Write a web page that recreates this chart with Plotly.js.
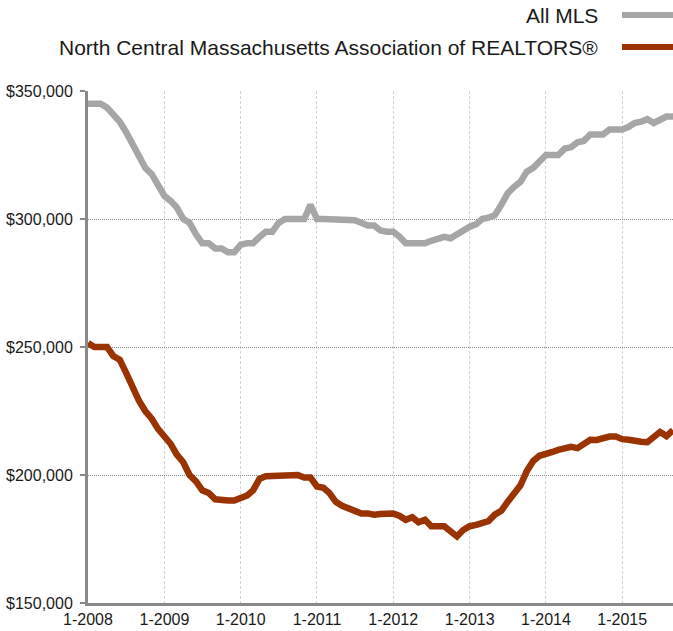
<!DOCTYPE html>
<html>
<head>
<meta charset="utf-8">
<script src="https://cdn.plot.ly/plotly-3.0.1.min.js"></script>
<style>html,body{margin:0;padding:0;background:#fff;}#chart{width:673px;height:631px;}</style>
</head>
<body>
<div id="chart"></div>
<script>
const months = [
  "2008-01","2008-02","2008-03","2008-04","2008-05","2008-06","2008-07","2008-08","2008-09","2008-10","2008-11","2008-12",
  "2009-01","2009-02","2009-03","2009-04","2009-05","2009-06","2009-07","2009-08","2009-09","2009-10","2009-11","2009-12",
  "2010-01","2010-02","2010-03","2010-04","2010-05","2010-06","2010-07","2010-08","2010-09","2010-10","2010-11","2010-12",
  "2011-01","2011-02","2011-03","2011-04","2011-05","2011-06","2011-07","2011-08","2011-09","2011-10","2011-11","2011-12",
  "2012-01","2012-02","2012-03","2012-04","2012-05","2012-06","2012-07","2012-08","2012-09","2012-10","2012-11","2012-12",
  "2013-01","2013-02","2013-03","2013-04","2013-05","2013-06","2013-07","2013-08","2013-09","2013-10","2013-11","2013-12",
  "2014-01","2014-02","2014-03","2014-04","2014-05","2014-06","2014-07","2014-08","2014-09","2014-10","2014-11","2014-12",
  "2015-01","2015-02","2015-03","2015-04","2015-05","2015-06","2015-07","2015-08","2015-09"
];

const allMLS = [
  345000,345000,345000,343500,341000,338000,334000,329500,325000,320000,317500,313000,
  309000,307000,304500,300000,298500,294000,290500,290500,288500,288500,287000,287000,
  290000,290500,290500,293000,295000,295000,298500,300000,300000,300000,300000,305500,
  300000,300000,300000,300000,300000,300000,299500,298500,297500,297500,295500,295000,
  295000,293000,290500,290500,290500,290500,291500,292500,293000,292500,294000,296000,
  297000,298000,300000,300500,301500,305500,310000,312500,314500,318500,320000,322500,
  325000,325000,325000,327500,328000,330000,330500,333000,333000,333000,335000,335000,
  335000,336000,337500,338000,339000,337500,339000,340000,340000
];

const ncmar = [
  251500,250000,250000,250000,246500,245000,240000,234000,229000,225000,222000,218000,
  215000,212000,208000,205000,200000,197500,194000,193000,190500,190000,190000,190000,
  191000,192000,194000,198500,199500,199500,200000,200000,200000,200000,199000,199000,
  195500,195000,193000,189500,188000,187000,185500,185000,185000,184500,184800,185000,
  185000,184000,182500,183500,181500,182500,180000,180000,180000,178000,176000,178500,
  180000,180500,181000,182000,184500,186000,189500,192500,196000,201500,205500,207500,
  208000,209000,209800,210500,211000,210500,212000,213800,213700,214500,215000,215000,
  214000,213800,213700,213000,212800,214800,216800,215200,217500
];

const seriesNames = ["All MLS", "North Central Massachusetts Association of REALTORS®"];
const seriesColors = ["#a6a6a6", "#9a3300"];
const yTicks = [150000, 200000, 250000, 300000, 350000];
const yTickText = ["$150,000", "$200,000", "$250,000", "$300,000", "$350,000"];

const font = "Helvetica Neue, Liberation Sans, Arial, sans-serif";

const traces = [
  {x: months, y: allMLS, name: seriesNames[0], type: "scatter", mode: "lines",
   line: {color: seriesColors[0], width: 6.5, shape: "linear"}, hoverinfo: "x+y"},
  {x: months, y: ncmar, name: seriesNames[1], type: "scatter", mode: "lines",
   line: {color: seriesColors[1], width: 6.5, shape: "linear"}, hoverinfo: "x+y"}
];

function py(p){ return (603 - p) / 512; }
function px(p){ return (p - 88) / 585; }

const layout = {
  width: 673, height: 631,
  margin: {l: 88, r: 0, t: 91, b: 28, pad: 0},
  paper_bgcolor: "#ffffff", plot_bgcolor: "#ffffff",
  showlegend: false,
  font: {family: font, size: 16, color: "#1a1a1a"},
  xaxis: {
    type: "date",
    range: ["2008-01-01", "2015-09-01"],
    tick0: "2008-01-01", dtick: "M12",
    tickformat: "%-m-%Y",
    showgrid: true, gridcolor: "#d4d4d4", griddash: "3px,2px", gridwidth: 1,
    showline: true, linecolor: "#8a8a8a", linewidth: 3,
    ticks: "", zeroline: false,
    tickfont: {family: font, size: 16, color: "#1a1a1a"},
    fixedrange: true
  },
  yaxis: {
    range: [150000, 350000],
    tickvals: yTicks,
    ticktext: yTickText,
    showgrid: true, gridcolor: "#8c8c8c", griddash: "1px,1px", gridwidth: 1,
    showline: true, linecolor: "#8a8a8a", linewidth: 3,
    ticks: "outside", ticklen: 5, tickwidth: 2, tickcolor: "#8a8a8a",
    ticklabelstandoff: 4,
    zeroline: false,
    tickfont: {family: font, size: 16, color: "#1a1a1a"},
    fixedrange: true
  },
  annotations: [
    {xref: "paper", yref: "paper", x: px(600), y: py(15), xanchor: "right", yanchor: "middle",
     text: seriesNames[0], showarrow: false, font: {family: font, size: 21, color: "#1a1a1a"}},
    {xref: "paper", yref: "paper", x: px(600), y: py(47), xanchor: "right", yanchor: "middle",
     text: seriesNames[1], showarrow: false, font: {family: font, size: 21, color: "#1a1a1a"}}
  ],
  shapes: [
    {type: "line", xref: "paper", yref: "paper", x0: px(622), x1: px(690), y0: py(15), y1: py(15),
     line: {color: seriesColors[0], width: 6}},
    {type: "line", xref: "paper", yref: "paper", x0: px(622), x1: px(690), y0: py(47), y1: py(47),
     line: {color: seriesColors[1], width: 6}}
  ]
};

Plotly.newPlot("chart", traces, layout, {displayModeBar: false, staticPlot: true});
</script>
</body>
</html>
